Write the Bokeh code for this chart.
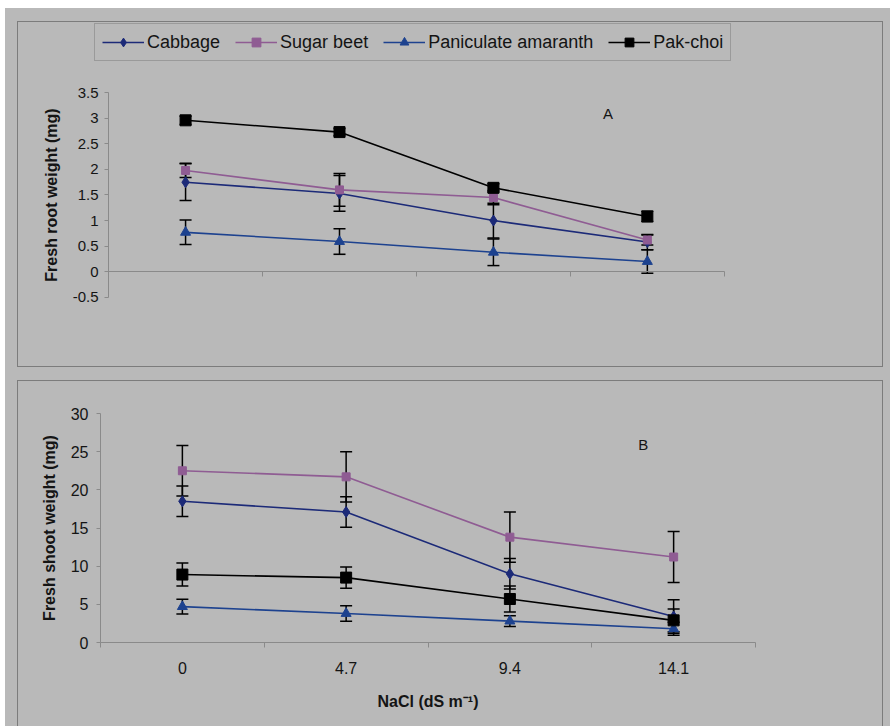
import numpy as np
from bokeh.plotting import figure
from bokeh.models import (Range1d, LinearAxis, FixedTicker, NumeralTickFormatter, Whisker,
                          ColumnDataSource, Legend, LegendItem, Label, TeeHead, Spacer)
from bokeh.layouts import column, row
from bokeh.embed import file_html
from bokeh.resources import INLINE

# ---------------- data ----------------
nacl_levels = ["0", "4.7", "9.4", "14.1"]
series_names = ["Cabbage", "Sugar beet", "Paniculate amaranth", "Pak-choi"]

root_cabbage = [1.75, 1.53, 1.00, 0.58]
root_cabbage_err = [0.36, 0.35, 0.34, 0.15]
root_sugarbeet = [1.98, 1.60, 1.45, 0.62]
root_sugarbeet_err = [0.14, 0.32, 0.14, 0.10]
root_amaranth = [0.77, 0.59, 0.38, 0.20]
root_amaranth_err = [0.24, 0.25, 0.26, 0.23]
root_pakchoi = [2.96, 2.73, 1.64, 1.08]
root_pakchoi_err = [0.08, 0.07, 0.08, 0.10]

shoot_cabbage = [18.5, 17.1, 9.0, 3.4]
shoot_cabbage_err = [2.0, 2.0, 2.0, 2.2]
shoot_sugarbeet = [22.5, 21.7, 13.8, 11.2]
shoot_sugarbeet_err = [3.3, 3.3, 3.3, 3.35]
shoot_amaranth = [4.7, 3.8, 2.8, 1.8]
shoot_amaranth_err = [0.95, 1.0, 0.7, 0.85]
shoot_pakchoi = [8.9, 8.5, 5.7, 2.9]
shoot_pakchoi_err = [1.5, 1.4, 1.7, 1.5]

root_ticks = [-0.5, 0, 0.5, 1, 1.5, 2, 2.5, 3, 3.5]
shoot_ticks = [0, 5, 10, 15, 20, 25, 30]

# ---------------- style ----------------
GRAY = "#b9b9b9"
AXIS_GRAY = "#8a8a8a"
FRAME_GRAY = "#7c7c7c"
TXT = "#141414"
FONT = "Liberation Sans"
styles = [
    dict(color="#1c2a78", marker="diamond", size=11),
    dict(color="#8f5c93", marker="square", size=8),
    dict(color="#1d428f", marker="triangle", size=10),
    dict(color="#000000", marker="square", size=11),
]

n = len(nacl_levels)
xpos = np.arange(n) + 0.5          # category centres
bounds = list(range(n + 1))        # category boundaries (tick marks)
blank = {b: "" for b in bounds}


def make_fig(xr, yr, ml, mr, mt, mb, border_css):
    p = figure(width=866, height=346, x_range=xr, y_range=yr,
               output_backend="svg", toolbar_location=None,
               x_axis_location=None, y_axis_location=None,
               min_border_left=ml, min_border_right=mr, min_border_top=mt, min_border_bottom=mb,
               background_fill_color=GRAY, border_fill_color=GRAY, outline_line_color=None)
    p.grid.grid_line_color = None
    p.grid.visible = False
    p.styles = border_css
    return p


def add_series(p, vals_list, errs_list):
    rends = []
    for vals, errs in zip(vals_list, errs_list):
        v = np.array(vals)
        e = np.array(errs)
        src = ColumnDataSource(dict(x=xpos, y=v, upper=v + e, lower=v - e))
        w = Whisker(source=src, base="x", upper="upper", lower="lower",
                    line_color="black", line_width=1.5,
                    upper_head=TeeHead(size=12, line_color="black", line_width=1.5),
                    lower_head=TeeHead(size=12, line_color="black", line_width=1.5))
        p.add_layout(w)
    for vals, st in zip(vals_list, styles):
        src = ColumnDataSource(dict(x=xpos, y=vals))
        lr = p.line("x", "y", source=src, line_color=st["color"], line_width=1.6)
        sr = p.scatter("x", "y", source=src, marker=st["marker"], size=st["size"],
                       fill_color=st["color"], line_color=st["color"])
        rends.append((lr, sr))
    return rends


def style_yaxis(ax, size):
    ax.axis_line_color = AXIS_GRAY
    ax.major_tick_line_color = AXIS_GRAY
    ax.major_tick_in = 0
    ax.major_tick_out = 4
    ax.minor_tick_line_color = None
    ax.major_label_text_font = FONT
    ax.major_label_text_font_size = size
    ax.major_label_text_color = TXT
    ax.axis_label_text_font = FONT
    ax.axis_label_text_font_style = "bold"
    ax.axis_label_text_font_size = "16px"
    ax.axis_label_text_color = TXT


# ---------------- panel A ----------------
# the frame covers the whole panel (so the legend is not clipped); axes are pinned at 0
A_PX = 153.75   # px per category
A_PY = 51.0     # px per unit
xrA = Range1d(-90 / A_PX, n + 160 / A_PX)
yrA = Range1d(-0.5 - 71 / A_PY, 3.5 + 70 / A_PY)
pA = make_fig(xrA, yrA, 0, 0, 0, 0, {"border": "1px solid " + FRAME_GRAY})
yA = LinearAxis(ticker=FixedTicker(ticks=root_ticks), formatter=NumeralTickFormatter(format="0.[0]"),
                axis_label="Fresh root weight (mg)", major_label_standoff=6, axis_label_standoff=10,
                fixed_location=0, bounds=(root_ticks[0], root_ticks[-1]))
style_yaxis(yA, "15px")
pA.add_layout(yA, "left")
xA = LinearAxis(ticker=FixedTicker(ticks=bounds), fixed_location=0, bounds=(0, n),
                major_label_overrides=blank, major_tick_in=0, major_tick_out=5,
                axis_line_color=AXIS_GRAY, major_tick_line_color=AXIS_GRAY, minor_tick_line_color=None)
pA.add_layout(xA, "below")

rA = add_series(pA, [root_cabbage, root_sugarbeet, root_amaranth, root_pakchoi],
                [root_cabbage_err, root_sugarbeet_err, root_amaranth_err, root_pakchoi_err])
legend = Legend(items=[LegendItem(label=nm, renderers=list(r)) for nm, r in zip(series_names, rA)],
                orientation="horizontal", location=(76, 307), margin=0,
                label_text_font=FONT, label_text_font_size="18px", label_text_color=TXT,
                border_line_color=FRAME_GRAY, border_line_width=1,
                background_fill_color=GRAY, background_fill_alpha=1,
                padding=7, spacing=15, glyph_width=42, glyph_height=22, label_height=22,
                label_standoff=3)
pA.add_layout(legend)
pA.add_layout(Label(x=3.245, y=3.1, text="A", text_font=FONT, text_font_size="15px",
                    text_color=TXT, text_align="center", text_baseline="middle"))

# ---------------- panel B ----------------
pB = make_fig(Range1d(0, n), Range1d(0, 30), 82, 129, 32, 85,
              {"border-left": "1px solid " + FRAME_GRAY, "border-top": "1px solid " + FRAME_GRAY,
               "border-right": "1px solid " + FRAME_GRAY})
yB = LinearAxis(ticker=FixedTicker(ticks=shoot_ticks), axis_label="Fresh shoot weight (mg)",
                major_label_standoff=8, axis_label_standoff=10)
style_yaxis(yB, "16px")
pB.add_layout(yB, "left")
xB1 = LinearAxis(ticker=FixedTicker(ticks=bounds), major_label_overrides=blank,
                 major_label_standoff=0, major_tick_in=0, major_tick_out=5,
                 axis_line_color=AXIS_GRAY, major_tick_line_color=AXIS_GRAY, minor_tick_line_color=None)
pB.add_layout(xB1, "below")
xB2 = LinearAxis(ticker=FixedTicker(ticks=list(xpos)),
                 major_label_overrides={float(x): lab for x, lab in zip(xpos, nacl_levels)},
                 axis_line_color=None, major_tick_line_color=None, minor_tick_line_color=None,
                 major_label_standoff=8, major_label_text_font=FONT, major_label_text_font_size="16px",
                 major_label_text_color=TXT,
                 axis_label="NaCl (dS m\u207b\u00b9)", axis_label_standoff=16,
                 axis_label_text_font=FONT, axis_label_text_font_style="bold",
                 axis_label_text_font_size="16px", axis_label_text_color=TXT)
pB.add_layout(xB2, "below")

add_series(pB, [shoot_cabbage, shoot_sugarbeet, shoot_amaranth, shoot_pakchoi],
           [shoot_cabbage_err, shoot_sugarbeet_err, shoot_amaranth_err, shoot_pakchoi_err])
pB.add_layout(Label(x=3.315, y=26.0, text="B", text_font=FONT, text_font_size="15px",
                    text_color=TXT, text_align="center", text_baseline="middle"))

layout = column(
    Spacer(width=885, height=13),
    row(Spacer(width=12, height=346), pA),
    Spacer(width=885, height=13),
    row(Spacer(width=12, height=346), pB),
    styles={"background-color": GRAY}, margin=(8, 0, 0, 5), spacing=0)

open("out.html", "w").write(file_html(layout, INLINE))
